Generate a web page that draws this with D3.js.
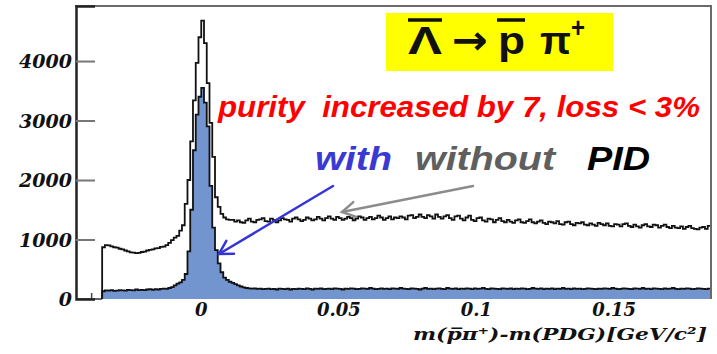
<!DOCTYPE html>
<html>
<head>
<meta charset="utf-8">
<script src="https://cdn.jsdelivr.net/npm/d3@7"></script>
<style>
  body { margin: 0; background: #fff; }
</style>
</head>
<body>
<div id="chart"></div>
<script>
// DATA ######################################################

// histogram bins: 1 MeV wide, lower edge from -0.036 GeV
const binStart = -0.036;
const binWidth = 0.001;

// counts without PID
const withoutPID = [
  870, 905, 900, 885, 870, 865, 845, 835, 815, 800,
  785, 780, 770, 775, 790, 795, 815, 825, 835, 850,
  855, 875, 880, 905, 945, 990, 1030, 1060, 1150, 1240,
  1600, 2000, 2650, 3340, 3970, 4400, 4680, 4300, 3630, 2960,
  2390, 1710, 1550, 1430, 1370, 1340, 1330,
  1330, 1300, 1320, 1290, 1280, 1320, 1350, 1300, 1290, 1330,
  1340, 1360, 1310, 1300, 1350, 1330, 1290, 1320, 1360, 1340,
  1330, 1300, 1350, 1370, 1340, 1310, 1330, 1370, 1350, 1320,
  1340, 1380, 1350, 1320, 1360, 1390, 1350, 1330, 1380, 1360,
  1330, 1350, 1380, 1360, 1320, 1350, 1390, 1370, 1330, 1360,
  1380, 1340, 1360, 1400, 1370, 1330, 1360, 1390, 1340, 1370,
  1360, 1390, 1370, 1340, 1400, 1410, 1360, 1380, 1420, 1380,
  1360, 1410, 1390, 1350, 1420, 1380, 1350, 1390, 1410, 1360,
  1330, 1390, 1400, 1350, 1320, 1370, 1400, 1330, 1310, 1360,
  1370, 1320, 1300, 1350, 1340, 1290, 1330, 1360, 1310, 1290,
  1330, 1300, 1280, 1320, 1340, 1290, 1280, 1310, 1340, 1290,
  1270, 1300, 1320, 1280, 1260, 1300, 1290, 1270, 1310, 1260,
  1250, 1290, 1300, 1260, 1240, 1280, 1270, 1290, 1250, 1240,
  1270, 1250, 1230, 1280, 1260, 1240, 1270, 1230, 1220, 1260,
  1250, 1220, 1260, 1270, 1230, 1210, 1250, 1220, 1200, 1240,
  1260, 1220, 1210, 1250, 1240, 1200, 1230, 1250, 1210, 1190,
  1230, 1200, 1190, 1220, 1180, 1210, 1230, 1190, 1180, 1170,
  1200, 1210, 1180, 1230
];

// counts with PID
const withPID = [
  130, 145, 140, 150, 135, 140, 150, 145, 140, 155,
  150, 145, 160, 150, 155, 150, 160, 165, 155, 165,
  160, 170, 175, 170, 185,
  200, 230, 260, 280, 320, 420, 800, 1500, 2500, 3100,
  3400, 3550, 3300, 2900, 1900, 1200, 820, 600, 450, 360,
  320, 290, 270, 250, 230, 210,
  195, 185, 180, 175, 180, 170, 175, 165, 170, 175,
  165, 170, 160, 175, 170, 165, 175, 160, 170, 165,
  175, 170, 165, 180, 170, 160, 175, 170, 180, 165,
  170, 175, 165, 180, 175, 170, 160, 175, 170, 180,
  175, 165, 170, 180, 175, 170, 185, 175, 165, 170,
  180, 170, 175, 165, 180, 175, 170, 185, 175, 170,
  165, 180, 175, 170, 160, 175, 185, 170, 175, 165,
  175, 180, 170, 165, 185, 175, 170, 180, 165, 175,
  170, 180, 175, 165, 180, 170, 175, 185, 170, 165,
  180, 175, 170, 165, 180, 175, 170, 180, 165, 175,
  170, 180, 175, 165, 170, 185, 175, 170, 180, 165,
  175, 170, 180, 165, 175, 170, 185, 170, 175, 165,
  180, 170, 175, 165, 170, 180, 175, 170, 165, 175,
  170, 180, 175, 170, 185, 175, 165, 170, 180, 175,
  170, 165, 180, 175, 170, 185, 170, 175, 165, 180,
  175, 170, 165, 180, 170, 175, 185, 170, 165, 175,
  170, 180, 175, 165, 170, 180, 175, 170, 165, 175
];

const yTicks = [0, 1000, 2000, 3000, 4000];
const xTicks = [0, 0.05, 0.1, 0.15];
const xMinorTicks = [-0.04, -0.03, -0.02, -0.01, 0.01, 0.02, 0.03, 0.04, 0.06, 0.07,
                     0.08, 0.09, 0.11, 0.12, 0.13, 0.14, 0.16, 0.17, 0.18];


// CONSTANTS #################################################
const width = 717;
const height = 354;
const plotLeft = 76, plotRight = 711, plotTop = 6, plotBottom = 299;
const serif = "'DejaVu Serif', 'Liberation Serif', serif";
const sans = "'Liberation Sans', Arial, 'DejaVu Sans', sans-serif";

// SCALES ====================================================
const xScale = d3.scaleLinear()
    .domain([-0.0455, 0.1852])
    .range([plotLeft, plotRight]);

const yScale = d3.scaleLinear()
    .domain([0, 4925])
    .range([plotBottom, plotTop]);

const svg = d3.select("#chart")
    .append("svg")
    .attr("width", width)
    .attr("height", height)
    .style("background", "#fff");

// x minor ticks (mostly hidden under the fill)
svg.append("g")
    .attr("transform", `translate(0,${plotBottom})`)
    .call(d3.axisBottom(xScale).tickValues(xMinorTicks.concat(xTicks)).tickSize(-6).tickFormat(""))
    .call(g => g.select(".domain").remove())
    .call(g => g.selectAll("line").attr("stroke", "#444").attr("stroke-width", 1.5));

// HISTOGRAMS ================================================
function stepPoints(values) {
  const pts = [[binStart, 0]];
  values.forEach((v, i) => {
    const x0 = binStart + i * binWidth;
    pts.push([x0, v], [x0 + binWidth, v]);
  });
  pts.push([binStart + values.length * binWidth, 0]);
  return pts;
}

const line = d3.line()
    .x(d => xScale(d[0]))
    .y(d => yScale(d[1]));

const withPts = stepPoints(withPID);
const withoutPts = stepPoints(withoutPID);

svg.append("path")
    .attr("d", line(withPts) + "Z")
    .attr("fill", "#7294cf")
    .attr("stroke", "none");

svg.append("path")
    .attr("d", line(withPts.slice(0, -1)))
    .attr("fill", "none")
    .attr("stroke", "#111")
    .attr("stroke-width", 1.8);

svg.append("path")
    .attr("d", line(withoutPts.slice(0, -1)))
    .attr("fill", "none")
    .attr("stroke", "#111")
    .attr("stroke-width", 1.8);

// FRAME + Y AXIS ============================================
svg.append("line")
    .attr("x1", plotLeft - 1).attr("x2", plotRight + 1)
    .attr("y1", plotTop).attr("y2", plotTop)
    .attr("stroke", "#6a6a6a").attr("stroke-width", 2);

svg.append("line")
    .attr("x1", plotRight).attr("x2", plotRight)
    .attr("y1", plotTop).attr("y2", plotBottom)
    .attr("stroke", "#6a6a6a").attr("stroke-width", 2);

svg.append("line")
    .attr("x1", plotLeft).attr("x2", xScale(binStart))
    .attr("y1", plotBottom).attr("y2", plotBottom)
    .attr("stroke", "#333").attr("stroke-width", 1.5);

svg.append("g")
    .attr("transform", `translate(${plotLeft},0)`)
    .call(d3.axisLeft(yScale).tickValues(yTicks).tickSize(-19).tickPadding(5)
        .tickFormat(d3.format("d")))
    .call(g => g.select(".domain").attr("stroke", "#222").attr("stroke-width", 2.5))
    .call(g => g.selectAll(".tick line").attr("stroke", "#777").attr("stroke-width", 2)
                 .filter(d => d === 0).remove())
    .call(g => g.selectAll("text")
        .attr("x", -4)
        .attr("dy", "0.36em")
        .style("font-family", serif)
        .style("font-weight", "bold")
        .style("font-style", "italic")
        .style("font-size", "19px")
        .attr("fill", "#111"));

// X TICK LABELS -------------------------------------------
svg.selectAll("text.xlab")
    .data(xTicks)
    .join("text")
    .attr("class", "xlab")
    .attr("x", d => xScale(d))
    .attr("y", 316)
    .attr("text-anchor", "middle")
    .style("font-family", serif)
    .style("font-weight", "bold")
    .style("font-style", "italic")
    .style("font-size", "18px")
    .attr("fill", "#111")
    .text(d => d === 0 ? "0" : String(d));

// X-Axis Title
svg.append("text")
    .attr("x", 413)
    .attr("y", 340)
    .attr("textLength", 294)
    .attr("lengthAdjust", "spacingAndGlyphs")
    .style("font-family", serif)
    .style("font-weight", "bold")
    .style("font-style", "italic")
    .style("font-size", "17px")
    .attr("fill", "#111")
    .text("m(p\u0305\u03c0\u207a)-m(PDG)[GeV/c\u00b2]");

// TITLE BOX ---------------------------------------------------
svg.append("rect")
    .attr("x", 386).attr("y", 13)
    .attr("width", 227).attr("height", 58)
    .attr("fill", "#ffff00");

const titleParts = [
  { t: "\u039b", x: 408, len: 34, size: 38, y: 54, font: sans },
  { t: "\u2192", x: 452, len: 36, size: 40, y: 54, font: "'DejaVu Sans', sans-serif" },
  { t: "p", x: 498, len: 27, size: 38, y: 54, font: sans },
  { t: "\u03c0", x: 540, len: 31, size: 38, y: 54, font: sans },
  { t: "+", x: 571, len: 14, size: 27, y: 37, font: sans }
];
svg.selectAll("text.title")
    .data(titleParts)
    .join("text")
    .attr("class", "title")
    .attr("x", d => d.x)
    .attr("y", d => d.y)
    .attr("textLength", d => d.len)
    .attr("lengthAdjust", "spacingAndGlyphs")
    .style("font-family", d => d.font)
    .style("font-weight", "bold")
    .style("font-size", d => d.size + "px")
    .attr("fill", "#111")
    .text(d => d.t);

// overbars on lambda and p
[[408, 442], [497, 525]].forEach(([a, b]) => {
  svg.append("line")
      .attr("x1", a).attr("x2", b)
      .attr("y1", 20).attr("y2", 20)
      .attr("stroke", "#111").attr("stroke-width", 3.5);
});

// ANNOTATIONS -------------------------------------------------
svg.append("text")
    .attr("x", 218)
    .attr("y", 117)
    .attr("textLength", 482)
    .attr("lengthAdjust", "spacingAndGlyphs")
    .style("white-space", "pre")
    .style("font-family", sans)
    .style("font-weight", "bold")
    .style("font-style", "italic")
    .style("font-size", "30px")
    .attr("fill", "#ff0000")
    .text("purity  increased by 7, loss < 3%");

const labels = [
  { t: "with", x: 315, len: 77, color: "#3a3ad2" },
  { t: "without", x: 415, len: 140, color: "#5f5f5f" },
  { t: "PID", x: 587, len: 63, color: "#000" }
];
svg.selectAll("text.lab")
    .data(labels)
    .join("text")
    .attr("class", "lab")
    .attr("x", d => d.x)
    .attr("y", 170)
    .attr("textLength", d => d.len)
    .attr("lengthAdjust", "spacingAndGlyphs")
    .style("font-family", sans)
    .style("font-weight", "bold")
    .style("font-style", "italic")
    .style("font-size", "34px")
    .attr("fill", d => d.color)
    .text(d => d.t);

// arrows
function arrow(x1, y1, x2, y2, color) {
  const ang = Math.atan2(y2 - y1, x2 - x1);
  const head = 15, spread = Math.PI / 6;
  const g = svg.append("g")
      .attr("stroke", color)
      .attr("stroke-width", 2.5)
      .attr("fill", "none")
      .attr("stroke-linecap", "round");
  g.append("line").attr("x1", x1).attr("y1", y1).attr("x2", x2).attr("y2", y2);
  g.append("path")
      .attr("d", `M${x2 - head * Math.cos(ang - spread)},${y2 - head * Math.sin(ang - spread)}` +
                 `L${x2},${y2}` +
                 `L${x2 - head * Math.cos(ang + spread)},${y2 - head * Math.sin(ang + spread)}`);
}
arrow(333, 186, 219, 254, "#3535d5");
arrow(473, 186, 342, 212, "#8c8c8c");
</script>
</body>
</html>
